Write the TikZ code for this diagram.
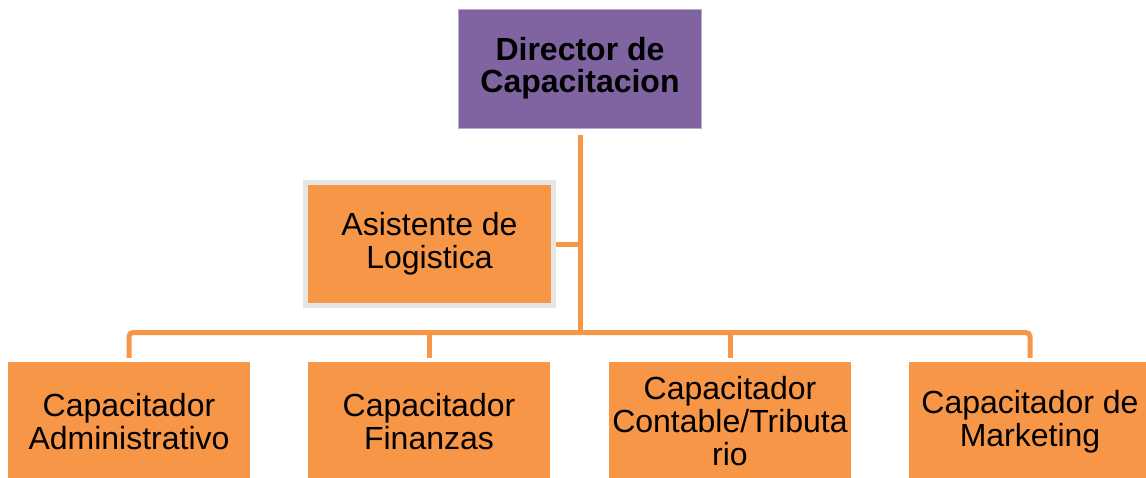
\documentclass[tikz,border=0pt]{standalone}
\usepackage{fontspec}
\setmainfont{Liberation Sans}
\definecolor{orgorange}{HTML}{F79646}
\definecolor{orgpurple}{HTML}{8064A2}
\definecolor{orggray}{HTML}{E7E6E6}
\tikzset{
  orgbox/.style={fill=orgorange, minimum width=242pt, minimum height=119pt,
    inner sep=0pt, align=center, font=\fontsize{32}{33}\selectfont},
  conn/.style={orgorange, line width=5pt, rounded corners=4pt}
}
\begin{document}
\begin{tikzpicture}[x=1pt, y=-1pt]
    \useasboundingbox (0,0) rectangle (1146,477);
    \node[orgbox, fill=orgpurple, draw=orgpurple!55!white, line width=1pt,
      minimum width=243pt, font=\bfseries\fontsize{32}{32}\selectfont] (dir) at (580,68.5) {Director de\\Capacitacion};
    \node[orgbox, draw=orggray, line width=5pt, minimum width=248pt, minimum height=123pt] (asis) at (429.5,244) {Asistente de\\Logistica};
    \node[orgbox] (adm) at (129,421.5) {Capacitador\\Administrativo};
    \node[orgbox] (fin) at (429,421.5) {Capacitador\\Finanzas};
    \node[orgbox] (cont) at (730,421.5) {Capacitador\\Contable/Tributa\\rio};
    \node[orgbox] (mkt) at (1030,421.5) {Capacitador de\\Marketing};
    \coordinate (bus) at (580,332.5);
    % trunk and branches
    \draw[conn] ([yshift=-6pt]dir.south) -- (bus);
    \draw[conn] (asis.east) -- (asis.east -| bus);
    \draw[conn] ([yshift=4pt]adm.north) |- (bus) -| ([yshift=4pt]mkt.north);
    \draw[conn] ([yshift=4pt]fin.north) -- (fin.north |- bus);
    \draw[conn] ([yshift=4pt]cont.north) -- (cont.north |- bus);
\end{tikzpicture}
\end{document}
